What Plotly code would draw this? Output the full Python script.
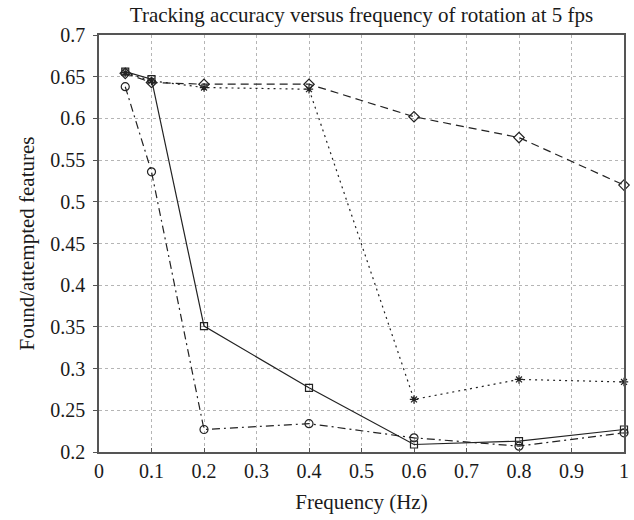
import plotly.graph_objects as go

freq = [0.05, 0.1, 0.2, 0.4, 0.6, 0.8, 1.0]
series_square = [0.656, 0.647, 0.351, 0.277, 0.209, 0.213, 0.227]
series_diamond = [0.654, 0.643, 0.641, 0.641, 0.602, 0.577, 0.520]
series_star = [0.655, 0.645, 0.637, 0.635, 0.263, 0.287, 0.284]
series_circle = [0.638, 0.536, 0.227, 0.234, 0.217, 0.207, 0.223]

x_ticks = [0, 0.1, 0.2, 0.3, 0.4, 0.5, 0.6, 0.7, 0.8, 0.9, 1]
x_tick_text = ["0", "0.1", "0.2", "0.3", "0.4", "0.5", "0.6", "0.7", "0.8", "0.9", "1"]
y_ticks = [0.2, 0.25, 0.3, 0.35, 0.4, 0.45, 0.5, 0.55, 0.6, 0.65, 0.7]
y_tick_text = ["0.2", "0.25", "0.3", "0.35", "0.4", "0.45", "0.5", "0.55", "0.6", "0.65", "0.7"]

FONT = "Liberation Serif"
TXT = "#1a1a1a"
fig = go.Figure()

def add(y, dash, symbol, size):
    fig.add_trace(go.Scatter(
        x=freq, y=y, mode="lines+markers",
        line=dict(color="#222222", width=1.2, dash=dash),
        marker=dict(symbol=symbol, size=size, color="#222222",
                    line=dict(color="#222222", width=1.2)),
        showlegend=False, cliponaxis=False))

add(series_diamond, "8px,5px", "diamond-open", 8)
add(series_star, "2px,4px", "asterisk-open", 7)
add(series_circle, "8px,4px,2px,4px", "circle-open", 8)
add(series_square, "solid", "square-open", 7)

axis_common = dict(
    showline=True, linecolor="#555555", linewidth=1.5, mirror=True,
    ticklen=4, tickcolor="#555555",
    showgrid=True, gridcolor="#b5b5b5", griddash="dot", gridwidth=1,
    zeroline=False, tickfont=dict(family=FONT, size=20, color=TXT),
)

fig.update_xaxes(range=[0, 1], tickvals=x_ticks, ticktext=x_tick_text, ticks="inside",
                 title=dict(text="Frequency (Hz)", font=dict(family=FONT, size=21, color=TXT), standoff=14),
                 **axis_common)
fig.update_yaxes(range=[0.2, 0.7], tickvals=y_ticks, ticktext=y_tick_text, ticks="outside",
                 ticklabelstandoff=4,
                 title=dict(text="Found/attempted features", font=dict(family=FONT, size=21, color=TXT), standoff=10),
                 **axis_common)

fig.update_layout(
    width=634, height=520,
    margin=dict(l=99, r=10, t=35, b=68, autoexpand=False),
    paper_bgcolor="white", plot_bgcolor="white",
    title=dict(text="Tracking accuracy versus frequency of rotation at 5 fps",
               font=dict(family=FONT, size=21, color=TXT),
               x=0.5, xref="paper", xanchor="center", y=1 - 15 / 520, yref="container", yanchor="middle"),
    font=dict(family=FONT),
)

fig.write_html("out.html", config={"displayModeBar": False},
               post_script="document.body.style.margin='0';document.body.style.overflow='hidden';")
